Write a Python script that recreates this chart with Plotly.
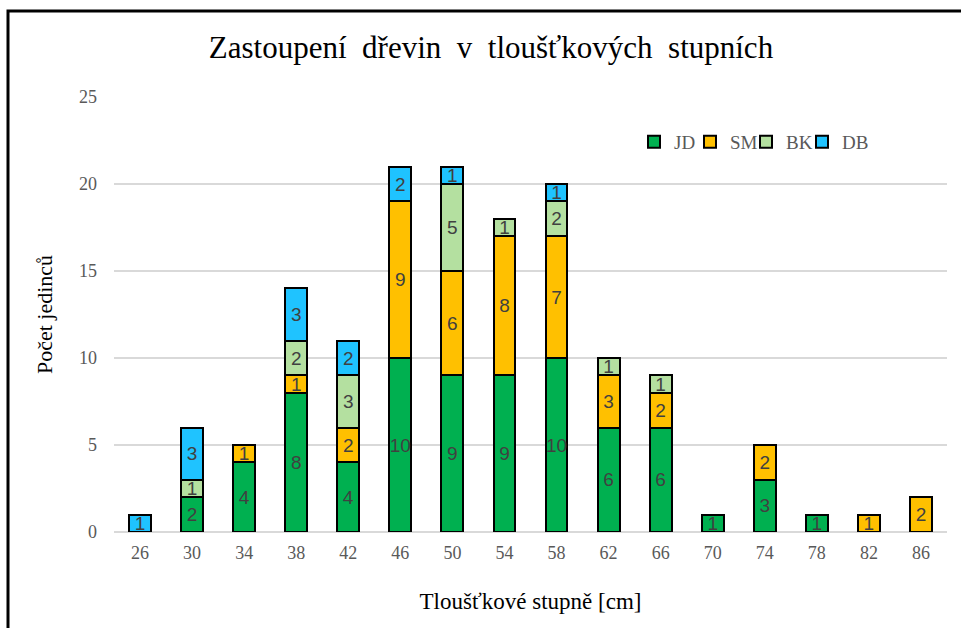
import plotly.graph_objects as go

categories = ["26", "30", "34", "38", "42", "46", "50", "54", "58", "62", "66", "70", "74", "78", "82", "86"]
jd = [0, 2, 4, 8, 4, 10, 9, 9, 10, 6, 6, 1, 3, 1, 0, 0]
sm = [0, 0, 1, 1, 2, 9, 6, 8, 7, 3, 2, 0, 2, 0, 1, 2]
bk = [0, 1, 0, 2, 3, 0, 5, 1, 2, 1, 1, 0, 0, 0, 0, 0]
db = [1, 3, 0, 3, 2, 2, 1, 0, 1, 0, 0, 0, 0, 0, 0, 0]

series = [("JD", jd, "#00B050"), ("SM", sm, "#FFC000"), ("BK", bk, "#B4E0A0"), ("DB", db, "#1FC3FF")]

fig = go.Figure()
for name, vals, color in series:
    y = [v if v else None for v in vals]
    txt = [str(v) if v else "" for v in vals]
    fig.add_trace(go.Bar(
        x=categories, y=y, name=name, text=txt,
        textposition="inside", insidetextanchor="middle", textangle=0,
        textfont=dict(family="Liberation Sans", size=19, color="#404040"),
        marker=dict(color=color, line=dict(color="#000000", width=2)),
    ))

# invisible spacer entry so the last legend label is not clipped
fig.add_trace(go.Bar(x=[categories[0]], y=[None], name=" ", showlegend=True,
                     marker=dict(color="rgba(0,0,0,0)", line=dict(width=0))))

L, R, T, B = 114, 14, 97, 96
W, H = 961, 628
pw, ph = W - L - R, H - T - B

fig.update_layout(
    width=W, height=H,
    barmode="stack", bargap=0.58,
    hovermode=False,
    margin=dict(l=L, r=R, t=T, b=B),
    paper_bgcolor="white", plot_bgcolor="white",
    uniformtext=dict(minsize=19, mode="show"),
    title=dict(text="Zastoupení  dřevin  v  tloušťkových  stupních",
               font=dict(family="Liberation Serif", size=31, color="#000000"),
               x=491 / W, xanchor="center", y=1 - 47 / H, yanchor="middle"),
    legend=dict(orientation="h", x=(634 - L) / pw, xanchor="left",
                y=(H - B - 142) / ph, yanchor="middle",
                font=dict(family="Liberation Serif", size=19, color="#595959"),
                bgcolor="rgba(0,0,0,0)", itemwidth=30, entrywidth=11,
                traceorder="normal"),
    xaxis=dict(type="category", showgrid=False, showline=False, zeroline=False,
               tickfont=dict(family="Liberation Serif", size=18, color="#595959"),
               ticklabelstandoff=8,
               title=dict(text="Tloušťkové stupně [cm]", standoff=30,
                          font=dict(family="Liberation Serif", size=23, color="#000000"))),
    yaxis=dict(range=[0, 25], dtick=5, showgrid=True, gridcolor="#D9D9D9", gridwidth=1.5,
               zeroline=True, zerolinecolor="#D9D9D9", zerolinewidth=1.5, showline=False,
               tickfont=dict(family="Liberation Serif", size=18, color="#595959"),
               ticklabelstandoff=16,
               title=dict(text="Počet jedinců", standoff=20,
                          font=dict(family="Liberation Serif", size=22, color="#000000"))),
)

# outer frame (chart-area border)
fig.add_shape(type="rect", xref="paper", yref="paper",
              x0=(8 - L) / pw, x1=(W + 20 - L) / pw,
              y0=(H - B - (H + 20)) / ph, y1=(H - B - 11) / ph,
              line=dict(color="#000000", width=3), fillcolor="rgba(0,0,0,0)", layer="below")

fig.write_html("out.html", config={"displayModeBar": False},
               post_script="document.body.style.margin='0';")
